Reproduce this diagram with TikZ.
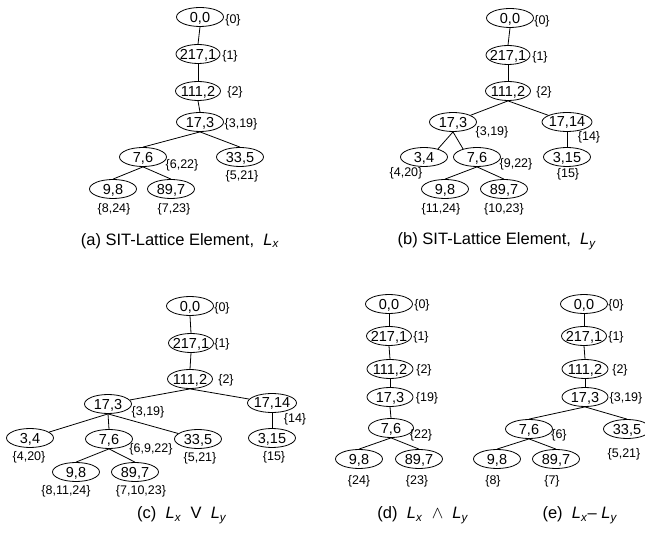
\documentclass[tikz,border=0pt]{standalone}
\usepackage{fontspec}
\setmainfont{Liberation Sans}
\usetikzlibrary{calc,shapes}

\tikzset{
  lat/.style={draw,ellipse,minimum width=47pt,minimum height=19pt,inner xsep=-10pt,inner ysep=-2pt,text depth=0pt,font=\fontsize{14.5}{14.5}\selectfont},
  tag/.style={inner sep=0pt,font=\fontsize{12.5}{12.5}\selectfont},
  subcap/.style={inner sep=0pt,font=\fontsize{16.5}{16.5}\selectfont}
}
\newcommand{\Lof}[1]{\textit{L}\textsubscript{\textit{#1}}}

\begin{document}
\begin{tikzpicture}[x=1pt,y=-1pt,line width=0.8pt]
\useasboundingbox (0,0) rectangle (645,534);
% (a) L_x
\coordinate (A0) at (200,17);
  \node[lat] (a0) at (A0) {0,0};
  \node[lat,minimum width=44pt] (a1) at ($(A0)+(-2,37)$) {217,1};
  \node[lat,minimum width=45pt] (a2) at ($(A0)+(-2,74)$) {111,2};
  \node[lat] (a3) at ($(A0)+(0,105)$) {17,3};
  \node[lat] (a6) at ($(A0)+(-57,140)$) {7,6};
  \node[lat] (a5) at ($(A0)+(40,140)$) {33,5};
  \node[lat] (a8) at ($(A0)+(-87,172)$) {9,8};
  \node[lat] (a7) at ($(A0)+(-29,172)$) {89,7};
  \node[tag] (a0t) at ($(a0)+(33,3)$) {\{0\}};
  \node[tag] (a1t) at ($(a1)+(32,2)$) {\{1\}};
  \node[tag] (a2t) at ($(a2)+(37,1)$) {\{2\}};
  \node[tag] (a3t) at ($(a3)+(41,2)$) {\{3,19\}};
  \node[tag] (a6t) at ($(a6)+(39,8)$) {\{6,22\}};
  \node[tag] (a5t) at ($(a5)+(2,19)$) {\{5,21\}};
  \node[tag] (a8t) at ($(a8)+(1,20)$) {\{8,24\}};
  \node[tag] (a7t) at ($(a7)+(3,20)$) {\{7,23\}};
  \node[subcap] (acap) at ($(A0)+(-20,224)$) {(a) SIT-Lattice Element,\ \ \Lof{x}};
  \path (a0.south) edge (a1.north) (a1.south) edge (a2.north) (a2.south) edge (a3.north);
  \path (a3.south) edge (a6.north) (a3.south) edge (a5.north);
  \path (a6.south) edge (a8.north) (a6.south) edge (a7.north);
% (b) L_y
\coordinate (B0) at (510,18);
  \node[lat] (b0) at (B0) {0,0};
  \node[lat,minimum width=44pt] (b1) at ($(B0)+(-2,37)$) {217,1};
  \node[lat,minimum width=45pt] (b2) at ($(B0)+(-2,73)$) {111,2};
  \node[lat] (b3) at ($(B0)+(-57,104)$) {17,3};
  \node[lat,minimum width=50pt] (b14) at ($(B0)+(57,104)$) {17,14};
  \node[lat] (b4) at ($(B0)+(-86,139)$) {3,4};
  \node[lat] (b6) at ($(B0)+(-33,139)$) {7,6};
  \node[lat] (b15) at ($(B0)+(57,139)$) {3,15};
  \node[lat] (b8) at ($(B0)+(-65,171)$) {9,8};
  \node[lat] (b7) at ($(B0)+(-6,171)$) {89,7};
  \node[tag] (b0t) at ($(b0)+(32,3)$) {\{0\}};
  \node[tag] (b1t) at ($(b1)+(32,2)$) {\{1\}};
  \node[tag] (b2t) at ($(b2)+(36,1)$) {\{2\}};
  \node[tag] (b3t) at ($(b3)+(39,10)$) {\{3,19\}};
  \node[tag] (b14t) at ($(b14)+(22,15)$) {\{14\}};
  \node[tag] (b15t) at ($(b15)+(1,17)$) {\{15\}};
  \node[tag] (b4t) at ($(b4)+(-18,16)$) {\{4,20\}};
  \node[tag] (b6t) at ($(b6)+(39,7)$) {\{9,22\}};
  \node[tag] (b8t) at ($(b8)+(-4,20)$) {\{11,24\}};
  \node[tag] (b7t) at ($(b7)+(0,20)$) {\{10,23\}};
  \node[subcap] (bcap) at ($(B0)+(-13,223)$) {(b) SIT-Lattice Element,\ \ \Lof{y}};
  \path (b0.south) edge (b1.north) (b1.south) edge (b2.north);
  \path (b2.south) edge (b3) (b2.south) edge (b14) (b14.south) edge (b15.north);
  \path (b3.south) edge (b4.30) (b3.south) edge (b6.150);
  \path (b6.south) edge (b8.north) (b6.south) edge (b7.north);
% (c) L_x V L_y
\coordinate (C0) at (190,306);
  \node[lat] (c0) at (C0) {0,0};
  \node[lat,minimum width=45pt] (c1) at ($(C0)+(1,37)$) {217,1};
  \node[lat,minimum width=45pt] (c2) at ($(C0)+(0,73)$) {111,2};
  \node[lat] (c3) at ($(C0)+(-82,98)$) {17,3};
  \node[lat,minimum width=49pt] (c14) at ($(C0)+(82,97)$) {17,14};
  \node[lat] (c4) at ($(C0)+(-160,132)$) {3,4};
  \node[lat] (c6) at ($(C0)+(-81,133)$) {7,6};
  \node[lat] (c5) at ($(C0)+(8,133)$) {33,5};
  \node[lat] (c15) at ($(C0)+(82,132)$) {3,15};
  \node[lat] (c8) at ($(C0)+(-114,166)$) {9,8};
  \node[lat] (c7) at ($(C0)+(-55,166)$) {89,7};
  \node[tag] (c0t) at ($(c0)+(32,2)$) {\{0\}};
  \node[tag] (c1t) at ($(c1)+(31,1)$) {\{1\}};
  \node[tag] (c2t) at ($(c2)+(36,1)$) {\{2\}};
  \node[tag] (c3t) at ($(c3)+(40,8)$) {\{3,19\}};
  \node[tag] (c14t) at ($(c14)+(23,16)$) {\{14\}};
  \node[tag] (c15t) at ($(c15)+(2,19)$) {\{15\}};
  \node[tag] (c4t) at ($(c4)+(-1,19)$) {\{4,20\}};
  \node[tag] (c6t) at ($(c6)+(42,10)$) {\{6,9,22\}};
  \node[tag] (c5t) at ($(c5)+(2,19)$) {\{5,21\}};
  \node[tag] (c8t) at ($(c8)+(-10,19)$) {\{8,11,24\}};
  \node[tag] (c7t) at ($(c7)+(6,19)$) {\{7,10,23\}};
  \node[subcap] (ccap) at ($(C0)+(-8,209)$) {(c)\ \ \Lof{x}\ \ V\ \ \Lof{y}};
  \path (c0.south) edge (c1.north) (c1.south) edge (c2.north);
  \path (c2.south) edge (c3) (c2.south) edge (c14) (c14.south) edge (c15.north);
  \path (c3.south) edge (c4) (c3.south) edge (c6.north) (c3.south) edge (c5);
  \path (c6.south) edge (c8.north) (c6.south) edge (c7.north);
% (d) L_x meet L_y
\coordinate (D0) at (389,304);
  \node[lat] (d0) at (D0) {0,0};
  \node[lat,minimum width=45pt] (d1) at ($(D0)+(0,32)$) {217,1};
  \node[lat,minimum width=46pt] (d2) at ($(D0)+(1,65)$) {111,2};
  \node[lat,minimum width=46pt] (d3) at ($(D0)+(1,93)$) {17,3};
  \node[lat,minimum width=45pt] (d6) at ($(D0)+(2,124)$) {7,6};
  \node[lat] (d8) at ($(D0)+(-30,155)$) {9,8};
  \node[lat] (d7) at ($(D0)+(30,155)$) {89,7};
  \node[tag] (d0t) at ($(d0)+(33,1)$) {\{0\}};
  \node[tag] (d1t) at ($(d1)+(32,1)$) {\{1\}};
  \node[tag] (d2t) at ($(d2)+(34,1)$) {\{2\}};
  \node[tag] (d3t) at ($(d3)+(37,1)$) {\{19\}};
  \node[tag] (d6t) at ($(d6)+(30,7)$) {\{22\}};
  \node[tag] (d8t) at ($(d8)+(0,22)$) {\{24\}};
  \node[tag] (d7t) at ($(d7)+(-2,22)$) {\{23\}};
  \node[subcap] (dcap) at ($(D0)+(34,211)$) {(d)\ \ \Lof{x}\ \ $\wedge$\ \ \Lof{y}};
  \path (d0.south) edge (d1.north) (d1.south) edge (d2.north) (d2.south) edge (d3.north) (d3.south) edge (d6.north);
  \path (d6.south) edge (d8.north) (d6.south) edge (d7.north);
% (e) L_x - L_y
\coordinate (E0) at (584,304);
  \node[lat] (e0) at (E0) {0,0};
  \node[lat,minimum width=45pt] (e1) at ($(E0)+(0,32)$) {217,1};
  \node[lat,minimum width=46pt] (e2) at ($(E0)+(1,65)$) {111,2};
  \node[lat,minimum width=46pt] (e3) at ($(E0)+(1,93)$) {17,3};
  \node[lat] (e6) at ($(E0)+(-55,125)$) {7,6};
  \node[lat] (e5) at ($(E0)+(43,125)$) {33,5};
  \node[lat] (e8) at ($(E0)+(-87,155)$) {9,8};
  \node[lat] (e7) at ($(E0)+(-28,155)$) {89,7};
  \node[tag] (e0t) at ($(e0)+(32,1)$) {\{0\}};
  \node[tag] (e1t) at ($(e1)+(32,1)$) {\{1\}};
  \node[tag] (e2t) at ($(e2)+(35,1)$) {\{2\}};
  \node[tag] (e3t) at ($(e3)+(41,1)$) {\{3,19\}};
  \node[tag] (e6t) at ($(e6)+(30,6)$) {\{6\}};
  \node[tag] (e5t) at ($(e5)+(-3,25)$) {\{5,21\}};
  \node[tag] (e8t) at ($(e8)+(-4,22)$) {\{8\}};
  \node[tag] (e7t) at ($(e7)+(-4,22)$) {\{7\}};
  \node[subcap] (ecap) at ($(E0)+(-4,211)$) {(e)\ \ \Lof{x}– \Lof{y}};
  \path (e0.south) edge (e1.north) (e1.south) edge (e2.north) (e2.south) edge (e3.north);
  \path (e3.south) edge (e6.north) (e3.south) edge (e5.north);
  \path (e6.south) edge (e8.north) (e6.south) edge (e7.north);
\end{tikzpicture}
\end{document}
